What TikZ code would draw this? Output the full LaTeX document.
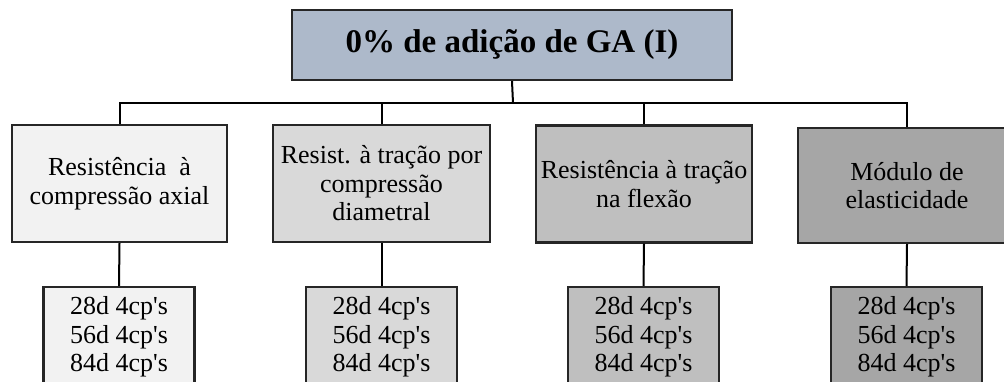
\documentclass[tikz,border=0pt]{standalone}
\usepackage{fontspec}
\setmainfont{Liberation Serif}
\definecolor{gablue}{HTML}{ADB9CA}
\definecolor{gaone}{HTML}{F2F2F2}
\definecolor{gatwo}{HTML}{D9D9D9}
\definecolor{gathree}{HTML}{BFBFBF}
\definecolor{gafour}{HTML}{A6A6A6}
\begin{document}
\begin{tikzpicture}[x=1bp,y=-1bp,
    every node/.style={font=\fontsize{26bp}{28.5bp}\selectfont, align=center, inner sep=0pt},
    box/.style={draw=black!85, line width=2.4bp, minimum height=117bp},
    test/.style={draw=black!85, line width=2.4bp, minimum width=151bp, minimum height=100bp},
    link/.style={draw=black, line width=2bp}]
    \useasboundingbox (0,0) rectangle (1004,381);
    % topo
    \node[box, fill=gablue, minimum width=440bp, minimum height=70bp,
          font=\fontsize{33bp}{38bp}\selectfont\bfseries] (title) at (512,45) {0\% de adição de GA (I)};
    % ensaios
    \node[box, fill=gaone, minimum width=215bp] (m1) at (119.5,183.5) {Resistência\ \ à\\compressão axial};
    \node[box, fill=gatwo, minimum width=217bp] (m2) at (381.5,183.5) {Resist. à tração por\\compressão\\diametral};
    \node[box, fill=gathree, minimum width=216bp] (m3) at (644,184) {Resistência à tração\\na flexão};
    \node[box, fill=gafour, minimum width=218bp, minimum height=115bp] (m4) at (907,185.5) {Módulo de\\elasticidade};
    % idades
    \foreach \i/\x/\c in {1/119/gaone,2/381.5/gatwo,3/643.5/gathree,4/906.5/gafour}
        \node[test, fill=\c] (b\i) at (\x,337) {28d 4cp\textquotesingle s\\56d 4cp\textquotesingle s\\84d 4cp\textquotesingle s};
    \coordinate (bus) at (513,103);
    \draw[link] (title.south) -- (bus);
    \foreach \i in {1,...,4}{
        \draw[link] (bus) -| (m\i.north);
        \draw[link] (m\i.south) -- (b\i.north);
    }
\end{tikzpicture}
\end{document}
